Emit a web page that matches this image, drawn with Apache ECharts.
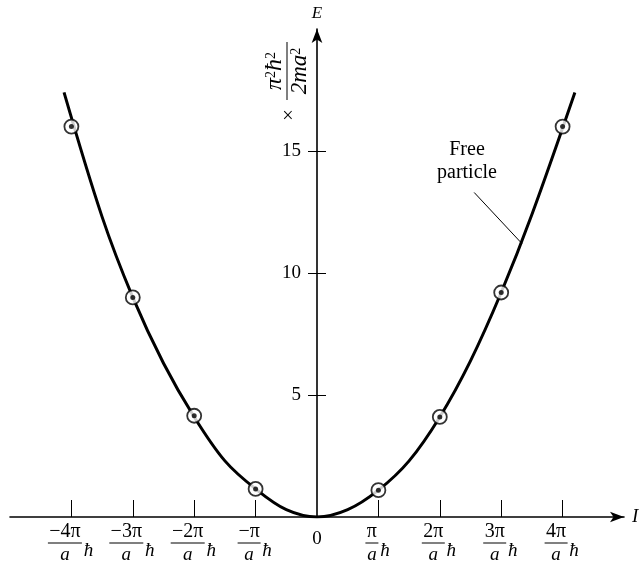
<!DOCTYPE html>
<html>
<head>
<meta charset="utf-8">
<script src="https://cdn.jsdelivr.net/npm/echarts@6/dist/echarts.min.js"></script>
<style>
  html, body { margin: 0; padding: 0; background: #fff; }
  #chart { width: 642px; height: 566px; }
</style>
</head>
<body>
<div id="chart"></div>
<script>
// Allowed levels: momentum in units of (π/a)ħ, energy in units of π²ħ²/2ma²
const levelMomenta = [-4, -3, -2, -1, 1, 2, 3, 4];
const levelEnergies = [16.0, 9.0, 4.15, 1.15, 1.1, 4.1, 9.2, 16.0];

// Free-particle parabola, sampled along the drawn curve
const curveMomenta = [-4.12, -3.5, -3, -2.5, -2, -1.5, -1, -0.5, 0, 0.5, 1, 1.5, 2, 2.5, 3, 3.5, 4.2];
const curveEnergies = [17.4, 12.3, 9.0, 6.3, 4.1, 2.3, 1.15, 0.3, 0, 0.3, 1.1, 2.3, 4.1, 6.4, 9.2, 12.4, 17.4];

// Axis ticks and labels
const xTickValues = [-4, -3, -2, -1, 0, 1, 2, 3, 4];
const xTickNumerators = ['−4π', '−3π', '−2π', '−π', '', 'π', '2π', '3π', '4π'];
const xTickMarks = [-4, -3, -2, -1, 1, 2, 3, 4];
const yTickValues = [5, 10, 15];

// Leader from the "Free particle" caption to the curve (data coordinates)
const leaderFrom = [2.56, 13.3];
const leaderTo = [3.34, 11.2];

const SERIF = '"Liberation Serif", "DejaVu Serif", serif';

// Plot frame: momentum -5..5, energy 0..20; the E axis sits at momentum 0
const GRID_LEFT = 10, GRID_RIGHT = 18, X_MIN = -5, X_MAX = 5;
const plotWidth = 642 - GRID_LEFT - GRID_RIGHT;
const zeroOffset = -plotWidth * (0 - X_MIN) / (X_MAX - X_MIN);

const curveData = curveMomenta.map((x, i) => [x, curveEnergies[i]]);
const levelData = levelMomenta.map((x, i) => [x, levelEnergies[i]]);

function fractionLabel(value) {
  const i = xTickValues.indexOf(Number(value));
  if (i < 0) return '';
  const num = xTickNumerators[i];
  if (!num) return '{zero|0}';
  const k = num.length >= 3 ? 'L' : (num.length === 2 ? 'M' : 'S');
  return '{num' + k + '|' + num + '}{gap| }\n{bar' + k + '| }{h|ħ}\n{den' + k + '|a}{gap| }';
}

function fractionRich() {
  const widths = { L: 34, M: 23, S: 13 };
  const rich = {
    zero: { fontFamily: SERIF, fontSize: 19, color: '#000', lineHeight: 34 },
    gap: { width: 13, fontSize: 4, lineHeight: 4 },
    h: { width: 13, align: 'center', fontFamily: SERIF, fontStyle: 'italic', fontSize: 19,
         color: '#000', lineHeight: 4, verticalAlign: 'top' }
  };
  Object.keys(widths).forEach(k => {
    const w = widths[k];
    rich['num' + k] = { width: w, align: 'center', fontFamily: SERIF, fontSize: 20, color: '#000', lineHeight: 19 };
    rich['bar' + k] = { width: w, height: 1, backgroundColor: '#000', fontSize: 1, lineHeight: 4 };
    rich['den' + k] = { width: w, align: 'center', fontFamily: SERIF, fontStyle: 'italic', fontSize: 19, color: '#000', lineHeight: 19 };
  });
  return rich;
}

const chart = echarts.init(document.getElementById('chart'), null, { renderer: 'canvas' });

chart.setOption({
  animation: false,
  backgroundColor: '#fff',
  grid: { left: GRID_LEFT, right: GRID_RIGHT, top: 29, bottom: 49, containLabel: false, outerBoundsMode: 'none' },
  xAxis: {
    type: 'value',
    min: X_MIN,
    max: X_MAX,
    name: 'I',
    nameLocation: 'end',
    nameGap: 8,
    nameTextStyle: { fontFamily: SERIF, fontStyle: 'italic', fontSize: 19, color: '#000' },
    axisLine: {
      show: true, onZero: false,
      symbol: ['none', 'arrow'], symbolSize: [8, 14],
      lineStyle: { color: '#000', width: 1.6 }
    },
    axisTick: { show: true, inside: true, length: 17, customValues: xTickMarks, lineStyle: { color: '#000', width: 1 } },
    axisLabel: {
      show: true, margin: 5,
      customValues: xTickValues,
      formatter: fractionLabel,
      rich: fractionRich()
    },
    splitLine: { show: false }
  },
  yAxis: [
    {
      type: 'value',
      min: 0,
      max: 20,
      position: 'left',
      offset: zeroOffset,
      name: 'E',
      nameLocation: 'end',
      nameGap: 7,
      nameTextStyle: { fontFamily: SERIF, fontStyle: 'italic', fontSize: 17, color: '#000' },
      axisLine: {
        show: true, onZero: false,
        symbol: ['none', 'arrow'], symbolSize: [8, 14],
        lineStyle: { color: '#000', width: 1.6 }
      },
      axisTick: { show: true, length: 9, customValues: yTickValues, lineStyle: { color: '#000', width: 1 } },
      axisLabel: {
        show: true, margin: 16, customValues: yTickValues,
        fontFamily: SERIF, fontSize: 19, color: '#000'
      },
      splitLine: { show: false }
    },
    {
      // second copy of the energy axis: the right-hand half of each tick
      type: 'value',
      min: 0,
      max: 20,
      position: 'left',
      offset: zeroOffset,
      axisLine: { show: false, onZero: false },
      axisTick: { show: true, inside: true, length: 9, customValues: yTickValues, lineStyle: { color: '#000', width: 1 } },
      axisLabel: { show: false },
      splitLine: { show: false }
    }
  ],
  series: [
    {
      name: 'Free particle',
      type: 'line',
      data: curveData,
      smooth: 0.35,
      showSymbol: false,
      lineStyle: { color: '#000', width: 3 },
      z: 2,
      markLine: {
        silent: true,
        symbol: ['none', 'none'],
        label: { show: false },
        lineStyle: { color: '#000', width: 1, type: 'solid' },
        data: [[{ coord: leaderFrom }, { coord: leaderTo }]]
      }
    },
    {
      name: 'levels',
      type: 'scatter',
      data: levelData,
      symbol: 'circle',
      symbolSize: 14,
      itemStyle: { color: '#fff', borderColor: '#000', borderWidth: 1.8 },
      z: 3
    },
    {
      name: 'level centres',
      type: 'scatter',
      data: levelData,
      symbol: 'circle',
      symbolSize: 5,
      itemStyle: { color: '#000' },
      z: 4
    }
  ],
  graphic: [
    {
      type: 'text',
      x: 467, y: 161,
      style: {
        text: 'Free\nparticle',
        fontFamily: SERIF, fontSize: 20, lineHeight: 23,
        fill: '#000', align: 'center', verticalAlign: 'middle'
      }
    },
    {
      type: 'text',
      x: 287, y: 71,
      rotation: Math.PI / 2,
      style: {
        text: '{n|π}{s|2}{n|ħ}{s|2}\n{bar| }\n{d|2ma}{s|2}',
        align: 'center', verticalAlign: 'middle',
        rich: {
          n: { fontFamily: SERIF, fontStyle: 'italic', fontSize: 24, fill: '#000', lineHeight: 21 },
          d: { fontFamily: SERIF, fontStyle: 'italic', fontSize: 23, fill: '#000', lineHeight: 21 },
          s: { fontFamily: SERIF, fontSize: 14, fill: '#000', lineHeight: 21, verticalAlign: 'top' },
          bar: { width: 58, height: 1, backgroundColor: '#000', fontSize: 1, lineHeight: 4 }
        }
      }
    },
    {
      type: 'text',
      x: 288, y: 117,
      style: {
        text: '×',
        fontFamily: SERIF, fontSize: 20, fill: '#000',
        align: 'center', verticalAlign: 'middle'
      }
    }
  ]
});
</script>
</body>
</html>
